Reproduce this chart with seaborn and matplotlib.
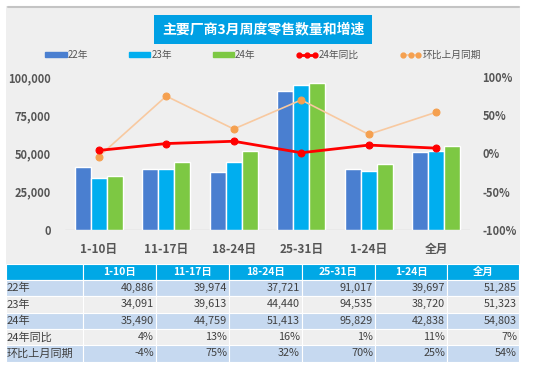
import numpy as np
import pandas as pd
import matplotlib
matplotlib.use('Agg')
import matplotlib.pyplot as plt
from matplotlib.patches import Rectangle, Patch
from matplotlib.lines import Line2D
import seaborn as sns

# chart data
periods = ['1-10日', '11-17日', '18-24日', '25-31日', '1-24日', '全月']
years = ['22年', '23年', '24年']
sales_22 = [40886, 39974, 37721, 91017, 39697, 51285]
sales_23 = [34091, 39613, 44440, 94535, 38720, 51323]
sales_24 = [35490, 44759, 51413, 95829, 42838, 54803]
yoy_24 = [4, 13, 16, 1, 11, 7]          # 24年同比, %
mom = [-4, 75, 32, 70, 25, 54]          # 环比上月同期, %

bar_colors = ['#4a7fd0', '#00aeef', '#7dc843']
yoy_color = '#ff0000'
mom_line = '#f8c9a0'
mom_marker = '#f5a04f'

sns.set_style('white')
plt.rcParams['font.family'] = ['Noto Sans CJK SC', 'DejaVu Sans']

W, H = 541, 375
fig = plt.figure(figsize=(W / 100, H / 100), dpi=100, facecolor='white')

# background layer in pixel coordinates
bg = fig.add_axes([0, 0, 1, 1], zorder=0)
bg.set_xlim(0, W)
bg.set_ylim(H, 0)
bg.axis('off')
bg.add_patch(Rectangle((6, 6), 514, 356, facecolor='#efefef', edgecolor='none'))
bg.plot([8, 519], [6.5, 6.5], color='#c4c4c4', lw=1.5)

# title box
bg.add_patch(Rectangle((154, 15), 218, 29, facecolor='#00a0e4', edgecolor='none'))
bg.text(263, 29.5, '主要厂商3月周度零售数量和增速', color='white', fontsize=10,
        fontweight='bold', ha='center', va='center')

# main chart
ax = fig.add_axes([65 / W, (H - 230) / H, 405 / W, 153 / H], zorder=2)
ax.patch.set_alpha(0)
df = pd.DataFrame({'period': periods * 3,
                   'year': np.repeat(years, len(periods)),
                   'value': sales_22 + sales_23 + sales_24})
sns.barplot(data=df, x='period', y='value', hue='year', order=periods,
            hue_order=years, palette=bar_colors, width=0.71, gap=0,
            saturation=1, legend=False, ax=ax)
ax.set_xlim(-0.5, len(periods) - 0.5)
ax.set_ylim(0, 100000)
ax.set_yticks([0, 25000, 50000, 75000, 100000])
ax.set_yticklabels([f'{v:,}' for v in [0, 25000, 50000, 75000, 100000]])
ax.set_xlabel('')
ax.set_ylabel('')
for s in ax.spines.values():
    s.set_visible(False)
ax.axhline(0, color='#d4d4d4', lw=1, zorder=0)
ax.tick_params(axis='both', length=0, colors='#555555', labelsize=8)
ax.tick_params(axis='y', pad=10)
ax.tick_params(axis='x', pad=9)
for lab in ax.get_xticklabels():
    lab.set_fontweight('bold')
    lab.set_fontsize(8.5)
for lab in ax.get_yticklabels():
    lab.set_fontweight('bold')

ax2 = ax.twinx()
ax2.patch.set_alpha(0)
xs = np.arange(len(periods))
sns.lineplot(x=xs, y=np.array(mom) / 100, ax=ax2, color=mom_line, lw=1.2,
             marker='o', markersize=5, markerfacecolor=mom_marker,
             markeredgecolor=mom_marker)
sns.lineplot(x=xs, y=np.array(yoy_24) / 100, ax=ax2, color=yoy_color, lw=2,
             marker='o', markersize=5, markerfacecolor=yoy_color,
             markeredgecolor=yoy_color)
ax2.set_ylim(-1, 1)
ax2.set_yticks([-1, -0.5, 0, 0.5, 1])
ax2.set_yticklabels(['-100%', '-50%', '0%', '50%', '100%'])
for s in ax2.spines.values():
    s.set_visible(False)
ax2.tick_params(axis='y', length=0, colors='#555555', labelsize=8, pad=9)
for lab in ax2.get_yticklabels():
    lab.set_fontweight('bold')

# legend
handles = [Patch(color=c) for c in bar_colors] + [
    Line2D([], [], color=yoy_color, lw=2, marker='o', markersize=3.5),
    Line2D([], [], color=mom_line, lw=1.2, marker='o', markersize=3.5,
           markerfacecolor=mom_marker, markeredgecolor=mom_marker)]
labels = years + ['24年同比', '环比上月同期']
leg = fig.legend(handles, labels, loc='center', bbox_to_anchor=(263 / W, 1 - 55 / H),
                 ncol=5, frameon=False, fontsize=7, handlelength=2.2,
                 handleheight=0.5, numpoints=3, columnspacing=4.2, handletextpad=0.1)
for t in leg.get_texts():
    t.set_color('#555555')

# data table
col_edges = [6, 83, 156, 229, 302, 375, 447, 519]
row_tops = [264, 280, 296.3, 312.6, 328.9, 345.2, 361.5]
header_color = '#00a8e6'
row_colors = ['#c6d9f0', '#efefef', '#c6d9f0', '#efefef', '#c6d9f0']
row_names = ['22年', '23年', '24年', '24年同比', '环比上月同期']
row_values = [[f'{v:,}' for v in sales_22],
              [f'{v:,}' for v in sales_23],
              [f'{v:,}' for v in sales_24],
              [f'{v}%' for v in yoy_24],
              [f'{v}%' for v in mom]]

for c in range(len(col_edges) - 1):
    x0, x1 = col_edges[c], col_edges[c + 1]
    bg.add_patch(Rectangle((x0, row_tops[0]), x1 - x0, row_tops[1] - row_tops[0],
                           facecolor=header_color, edgecolor='white', lw=0.8))
    if c > 0:
        bg.text((x0 + x1) / 2, (row_tops[0] + row_tops[1]) / 2, periods[c - 1],
                color='white', fontsize=7.5, fontweight='bold', ha='center', va='center')
for r in range(len(row_names)):
    y0, y1 = row_tops[r + 1], row_tops[r + 2]
    for c in range(len(col_edges) - 1):
        x0, x1 = col_edges[c], col_edges[c + 1]
        bg.add_patch(Rectangle((x0, y0), x1 - x0, y1 - y0,
                               facecolor=row_colors[r], edgecolor='white', lw=0.8))
    ym = (y0 + y1) / 2
    bg.text(col_edges[0] + 1, ym, row_names[r], color='#404040', fontsize=8,
            ha='left', va='center')
    for c, val in enumerate(row_values[r]):
        bg.text(col_edges[c + 2] - 2, ym, val, color='#404040', fontsize=7.8,
                ha='right', va='center')

fig.savefig('out.png', dpi=100, facecolor='white')
